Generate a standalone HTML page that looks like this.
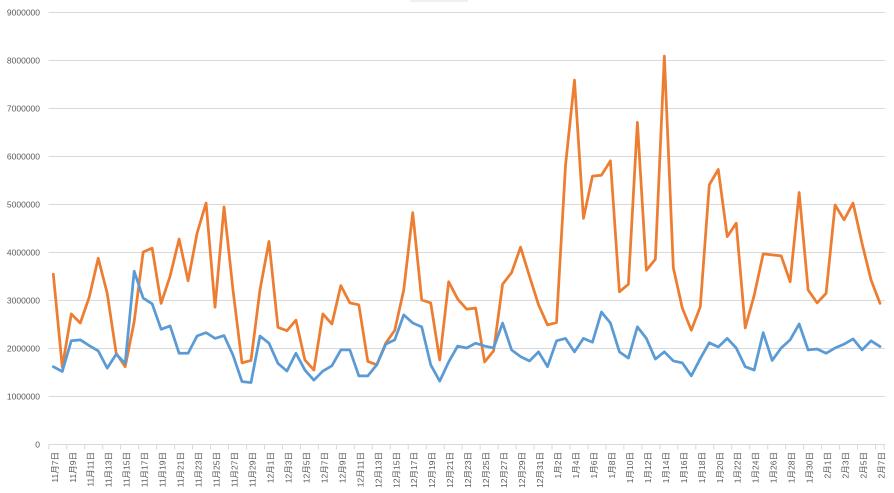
<!DOCTYPE html>
<html>
<head>
<meta charset="utf-8">
<style>
  html, body { margin: 0; padding: 0; background: #ffffff; }
  body { width: 894px; height: 493px; overflow: hidden; }
  svg { display: block; }
  .yl { font-family: "Liberation Sans", sans-serif; font-size: 8.5px; fill: #595959; }
  .xl { font-family: "Liberation Sans", "Noto Sans CJK SC", sans-serif; font-size: 8.5px; fill: #595959; }
</style>
</head>
<body>
<svg width="894" height="493" viewBox="0 0 894 493" xmlns="http://www.w3.org/2000/svg">
  <rect x="0" y="0" width="894" height="493" fill="#ffffff"/>
  <rect x="410" y="0" width="58" height="2" fill="#f0f0f0"/>
  <!-- gridlines -->
  <g stroke="#d9d9d9" stroke-width="1">
    <line x1="48.5" y1="12.5" x2="885" y2="12.5"/>
    <line x1="48.5" y1="60.5" x2="885" y2="60.5"/>
    <line x1="48.5" y1="108.5" x2="885" y2="108.5"/>
    <line x1="48.5" y1="156.5" x2="885" y2="156.5"/>
    <line x1="48.5" y1="204.5" x2="885" y2="204.5"/>
    <line x1="48.5" y1="252.5" x2="885" y2="252.5"/>
    <line x1="48.5" y1="300.5" x2="885" y2="300.5"/>
    <line x1="48.5" y1="348.5" x2="885" y2="348.5"/>
    <line x1="48.5" y1="396.5" x2="885" y2="396.5"/>
    <line x1="48.5" y1="444.5" x2="885" y2="444.5"/>
  </g>
  <!-- tick marks -->
  <line x1="48.3" y1="447" x2="885" y2="447" stroke="#d9d9d9" stroke-width="5" stroke-dasharray="1 16.972"/>
  <line x1="884" y1="444.5" x2="884" y2="449.5" stroke="#d9d9d9" stroke-width="1"/>

  <!-- y labels -->
  <g class="yl" text-anchor="end" dominant-baseline="central">
    <text x="40" y="12.5">9000000</text>
    <text x="40" y="60.5">8000000</text>
    <text x="40" y="108.5">7000000</text>
    <text x="40" y="156.5">6000000</text>
    <text x="40" y="204.5">5000000</text>
    <text x="40" y="252.5">4000000</text>
    <text x="40" y="300.5">3000000</text>
    <text x="40" y="348.5">2000000</text>
    <text x="40" y="396.5">1000000</text>
    <text x="40" y="444.5">0</text>
  </g>

  <!-- series -->
  <g transform="matrix(8.986 0 0 -48 53.3 444)">
    <polyline fill="none" stroke="#ED7D31" stroke-width="2.75" vector-effect="non-scaling-stroke" stroke-linejoin="round" stroke-linecap="round"
      points="0,3.54 1,1.6 2,2.71 3,2.52 4,3.06 5,3.87 6,3.14 7,1.89 8,1.61 9,2.55 10,4.0 11,4.08 12,2.93 13,3.5 14,4.27 15,3.4 16,4.39 17,5.02 18,2.85 19,4.94 20,3.2 21,1.69 22,1.74 23,3.21 24,4.22 25,2.43 26,2.36 27,2.58 28,1.75 29,1.54 30,2.71 31,2.5 32,3.3 33,2.94 34,2.9 35,1.72 36,1.65 37,2.1 38,2.37 39,3.21 40,4.82 41,3.0 42,2.94 43,1.75 44,3.38 45,3.02 46,2.81 47,2.83 48,1.71 49,1.94 50,3.33 51,3.57 52,4.1 53,3.49 54,2.9 55,2.48 56,2.53 57,5.8 58,7.58 59,4.7 60,5.58 61,5.6 62,5.9 63,3.17 64,3.33 65,6.7 66,3.62 67,3.85 68,8.08 69,3.67 70,2.83 71,2.37 72,2.86 73,5.4 74,5.72 75,4.32 76,4.6 77,2.42 78,3.1 79,3.96 80,3.94 81,3.92 82,3.38 83,5.24 84,3.21 85,2.94 86,3.14 87,4.98 88,4.67 89,5.02 90,4.18 91,3.42 92,2.93"/>
    <polyline fill="none" stroke="#5B9BD5" stroke-width="2.75" vector-effect="non-scaling-stroke" stroke-linejoin="round" stroke-linecap="round"
      points="0,1.61 1,1.51 2,2.15 3,2.17 4,2.05 5,1.94 6,1.58 7,1.87 8,1.68 9,3.6 10,3.04 11,2.92 12,2.39 13,2.46 14,1.89 15,1.89 16,2.25 17,2.32 18,2.2 19,2.26 20,1.85 21,1.3 22,1.28 23,2.25 24,2.1 25,1.68 26,1.52 27,1.89 28,1.54 29,1.33 30,1.52 31,1.63 32,1.96 33,1.96 34,1.42 35,1.42 36,1.65 37,2.08 38,2.17 39,2.69 40,2.52 41,2.44 42,1.65 43,1.31 44,1.71 45,2.04 46,2.0 47,2.1 48,2.04 49,2.0 50,2.52 51,1.96 52,1.82 53,1.73 54,1.92 55,1.61 56,2.15 57,2.2 58,1.92 59,2.2 60,2.12 61,2.75 62,2.52 63,1.92 64,1.79 65,2.44 66,2.2 67,1.77 68,1.92 69,1.73 70,1.69 71,1.42 72,1.78 73,2.11 74,2.02 75,2.2 76,2.0 77,1.61 78,1.54 79,2.32 80,1.74 81,2.0 82,2.17 83,2.5 84,1.96 85,1.98 86,1.89 87,2.0 88,2.08 89,2.19 90,1.96 91,2.15 92,2.03"/>
  </g>

  <!-- x labels -->
  <g class="xl" text-anchor="end" dominant-baseline="central">
    <text transform="translate(54.8,452) rotate(-90)">11月7日</text>
    <text transform="translate(72.8,452) rotate(-90)">11月9日</text>
    <text transform="translate(90.7,452) rotate(-90)">11月11日</text>
    <text transform="translate(108.7,452) rotate(-90)">11月13日</text>
    <text transform="translate(126.7,452) rotate(-90)">11月15日</text>
    <text transform="translate(144.7,452) rotate(-90)">11月17日</text>
    <text transform="translate(162.6,452) rotate(-90)">11月19日</text>
    <text transform="translate(180.6,452) rotate(-90)">11月21日</text>
    <text transform="translate(198.6,452) rotate(-90)">11月23日</text>
    <text transform="translate(216.6,452) rotate(-90)">11月25日</text>
    <text transform="translate(234.5,452) rotate(-90)">11月27日</text>
    <text transform="translate(252.5,452) rotate(-90)">11月29日</text>
    <text transform="translate(270.5,452) rotate(-90)">12月1日</text>
    <text transform="translate(288.4,452) rotate(-90)">12月3日</text>
    <text transform="translate(306.4,452) rotate(-90)">12月5日</text>
    <text transform="translate(324.4,452) rotate(-90)">12月7日</text>
    <text transform="translate(342.4,452) rotate(-90)">12月9日</text>
    <text transform="translate(360.3,452) rotate(-90)">12月11日</text>
    <text transform="translate(378.3,452) rotate(-90)">12月13日</text>
    <text transform="translate(396.3,452) rotate(-90)">12月15日</text>
    <text transform="translate(414.2,452) rotate(-90)">12月17日</text>
    <text transform="translate(432.2,452) rotate(-90)">12月19日</text>
    <text transform="translate(450.2,452) rotate(-90)">12月21日</text>
    <text transform="translate(468.2,452) rotate(-90)">12月23日</text>
    <text transform="translate(486.1,452) rotate(-90)">12月25日</text>
    <text transform="translate(504.1,452) rotate(-90)">12月27日</text>
    <text transform="translate(522.1,452) rotate(-90)">12月29日</text>
    <text transform="translate(540.0,452) rotate(-90)">12月31日</text>
    <text transform="translate(558.0,452) rotate(-90)">1月2日</text>
    <text transform="translate(576.0,452) rotate(-90)">1月4日</text>
    <text transform="translate(594.0,452) rotate(-90)">1月6日</text>
    <text transform="translate(611.9,452) rotate(-90)">1月8日</text>
    <text transform="translate(629.9,452) rotate(-90)">1月10日</text>
    <text transform="translate(647.9,452) rotate(-90)">1月12日</text>
    <text transform="translate(665.8,452) rotate(-90)">1月14日</text>
    <text transform="translate(683.8,452) rotate(-90)">1月16日</text>
    <text transform="translate(701.8,452) rotate(-90)">1月18日</text>
    <text transform="translate(719.8,452) rotate(-90)">1月20日</text>
    <text transform="translate(737.7,452) rotate(-90)">1月22日</text>
    <text transform="translate(755.7,452) rotate(-90)">1月24日</text>
    <text transform="translate(773.7,452) rotate(-90)">1月26日</text>
    <text transform="translate(791.7,452) rotate(-90)">1月28日</text>
    <text transform="translate(809.6,452) rotate(-90)">1月30日</text>
    <text transform="translate(827.6,452) rotate(-90)">2月1日</text>
    <text transform="translate(845.6,452) rotate(-90)">2月3日</text>
    <text transform="translate(863.5,452) rotate(-90)">2月5日</text>
    <text transform="translate(881.5,452) rotate(-90)">2月7日</text>
  </g>
</svg>
</body>
</html>
